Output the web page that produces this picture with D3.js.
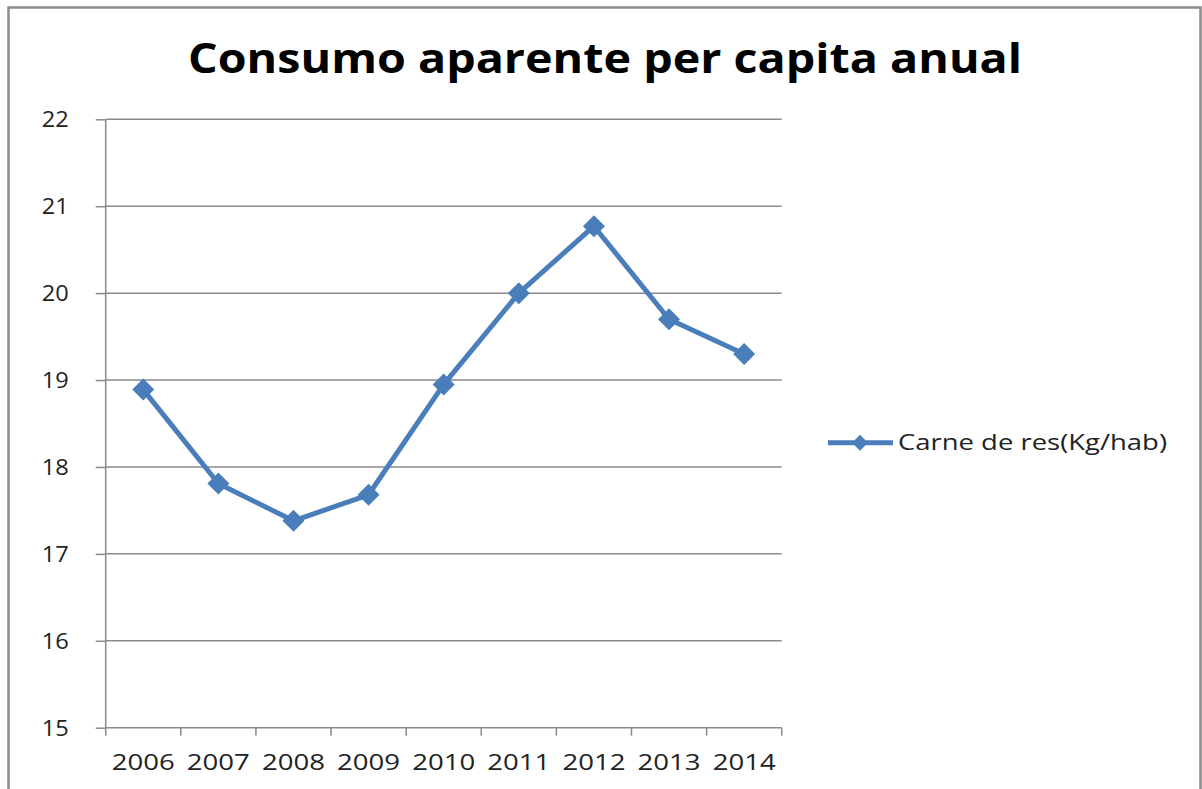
<!DOCTYPE html>
<html><head><meta charset="utf-8">
<script src="https://cdn.jsdelivr.net/npm/d3@7/dist/d3.min.js"></script>
<style>body{margin:0;background:#fff}svg{display:block}</style>
</head><body>
<svg id="c" width="1202" height="789"></svg>
<script>
const years = ["2006","2007","2008","2009","2010","2011","2012","2013","2014"];
const values = [18.89, 17.81, 17.38, 17.68, 18.95, 20.0, 20.77, 19.7, 19.3];
const yTicks = [15,16,17,18,19,20,21,22];
const seriesName = "Carne de res(Kg/hab)";
const title = "Consumo aparente per capita anual";

const svg = d3.select("#c");
const color = "#4a7ebb", gridC = "#8a8a8a", font = "'Open Sans', 'Noto Sans', sans-serif";

// frame
svg.append("rect").attr("x",8.5).attr("y",7.5).attr("width",1192).attr("height",800)
  .attr("fill","#fff").attr("stroke","#8c8c8c").attr("stroke-width",2.5);

const L=105.7, R=781.7, T=119.3, B=727.7;
const x = d3.scaleBand().domain(years).range([L,R]).padding(0);
const y = d3.scaleLinear().domain([15,22]).range([B,T]);

// gridlines
svg.append("g").selectAll("line").data(yTicks.filter(d=>d>15)).join("line")
  .attr("x1",L).attr("x2",R).attr("y1",d=>y(d)).attr("y2",d=>y(d))
  .attr("stroke",gridC).attr("stroke-width",1.5);

// y axis
const ya = svg.append("g").attr("transform",`translate(${L},0)`)
  .call(d3.axisLeft(y).tickValues(yTicks).tickSize(10).tickPadding(0).tickFormat(d3.format("d")));
ya.select(".domain").attr("stroke",gridC).attr("stroke-width",1.5).attr("d",`M0,${T}V${B}`);
ya.selectAll(".tick line").attr("stroke",gridC).attr("stroke-width",1.5);
ya.selectAll(".tick text").attr("font-family",font).attr("font-size",21).attr("fill","#222")
  .attr("x",-37).attr("dy","0.36em").attr("text-anchor","end").attr("textLength",27).attr("lengthAdjust","spacingAndGlyphs");

// x axis
const xa = svg.append("g").attr("transform",`translate(0,${B})`)
  .call(d3.axisBottom(x).tickSize(0).tickPadding(0));
xa.select(".domain").remove();
xa.selectAll(".tick text").attr("font-family",font).attr("font-size",21).attr("fill","#222")
  .attr("y",42).attr("dy",0).attr("textLength",63).attr("lengthAdjust","spacingAndGlyphs");
const edges = years.map(d=>x(d)).concat([R]);
svg.append("g").selectAll("line").data(edges).join("line")
  .attr("x1",d=>d).attr("x2",d=>d).attr("y1",B).attr("y2",B+8)
  .attr("stroke",gridC).attr("stroke-width",1.5);
svg.append("line").attr("x1",L).attr("x2",R).attr("y1",B).attr("y2",B)
  .attr("stroke",gridC).attr("stroke-width",1.5);

// line
const cx = d=>x(d)+x.bandwidth()/2;
const line = d3.line().x((d,i)=>cx(years[i])).y(d=>y(d));
svg.append("path").datum(values).attr("d",line).attr("fill","none")
  .attr("stroke",color).attr("stroke-width",5).attr("stroke-linejoin","round");
const diamond = s=>`M0,${-s}L${s},0L0,${s}L${-s},0Z`;
svg.append("g").selectAll("path").data(values).join("path")
  .attr("transform",(d,i)=>`translate(${cx(years[i])},${y(d)})`)
  .attr("d",diamond(11)).attr("fill",color);

// title
svg.append("text").attr("x",605).attr("y",73).attr("text-anchor","middle")
  .attr("font-family",font).attr("font-weight","bold").attr("font-size",41).attr("fill","#000")
  .attr("textLength",834).attr("lengthAdjust","spacingAndGlyphs").text(title);

// legend
svg.append("line").attr("x1",828).attr("x2",893).attr("y1",442.7).attr("y2",442.7)
  .attr("stroke",color).attr("stroke-width",5);
svg.append("path").attr("transform","translate(860,442.7)").attr("d",diamond(8)).attr("fill",color);
svg.append("text").attr("x",898).attr("y",450).attr("font-family",font).attr("font-size",22)
  .attr("fill","#222").attr("textLength",269).attr("lengthAdjust","spacingAndGlyphs").text(seriesName);
</script>
</body></html>
